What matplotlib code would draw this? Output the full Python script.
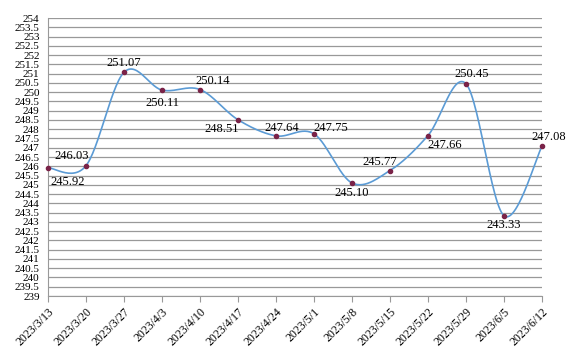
import numpy as np
import matplotlib
matplotlib.use("Agg")
import matplotlib.pyplot as plt

# weekly values
dates = ['2023/3/13', '2023/3/20', '2023/3/27', '2023/4/3', '2023/4/10', '2023/4/17',
         '2023/4/24', '2023/5/1', '2023/5/8', '2023/5/15', '2023/5/22', '2023/5/29',
         '2023/6/5', '2023/6/12']
values = [245.92, 246.03, 251.07, 250.11, 250.14, 248.51, 247.64, 247.75,
          245.10, 245.77, 247.66, 250.45, 243.33, 247.08]
labels = ['245.92', '246.03', '251.07', '250.11', '250.14', '248.51', '247.64',
          '247.75', '245.10', '245.77', '247.66', '250.45', '243.33', '247.08']
# label offsets (points) so text sits like the original
offsets = [(14, -10), (-10, 7), (0, 7), (0, -9), (9, 6), (-12, -7), (4, 6),
           (12, 4), (0, -7), (-7, 6), (12, -7), (4, 7), (0, -7), (5, 7)]

plt.rcParams['font.family'] = ['Liberation Serif', 'DejaVu Serif']

x = np.arange(len(values))
y = np.array(values)

# smooth line like excel (catmull-rom via bezier)
xs, ys = [], []
n = len(x)
for i in range(n - 1):
    p0 = (x[max(i - 1, 0)], y[max(i - 1, 0)])
    p1 = (x[i], y[i])
    p2 = (x[i + 1], y[i + 1])
    p3 = (x[min(i + 2, n - 1)], y[min(i + 2, n - 1)])
    c1 = (p1[0] + (p2[0] - p0[0]) / 6, p1[1] + (p2[1] - p0[1]) / 6)
    c2 = (p2[0] - (p3[0] - p1[0]) / 6, p2[1] - (p3[1] - p1[1]) / 6)
    t = np.linspace(0, 1, 30)
    bx = (1-t)**3*p1[0] + 3*(1-t)**2*t*c1[0] + 3*(1-t)*t**2*c2[0] + t**3*p2[0]
    by = (1-t)**3*p1[1] + 3*(1-t)**2*t*c1[1] + 3*(1-t)*t**2*c2[1] + t**3*p2[1]
    xs.extend(bx)
    ys.extend(by)

fig = plt.figure(figsize=(5.76, 3.58), dpi=100)
ax = fig.add_axes([48/576, 1 - 296/358, 494/576, 278/358])

ax.plot(xs, ys, color='#5b9bd5', lw=1.2, zorder=3, clip_on=False)
ax.scatter(x, y, s=9, color='#7a2348', zorder=4, clip_on=False)

for i in range(n):
    ax.annotate(labels[i], (x[i], y[i]), xytext=offsets[i], textcoords='offset points',
                ha='center', va='center', fontsize=9, zorder=5)

ax.set_xlim(0, n - 1)
ax.set_ylim(239, 254)
yt = np.arange(239, 254.01, 0.5)
ax.set_yticks(yt)
ax.set_yticklabels(['%g' % v for v in yt], fontsize=8, linespacing=0.9)
ax.tick_params(axis='y', length=0, pad=6)
ax.yaxis.grid(True, color='#999999', lw=0.9)
ax.set_axisbelow(True)

ax.set_xticks(x)
ax.set_xticklabels(dates, rotation=45, ha='right', rotation_mode='anchor', fontsize=8.5)
ax.tick_params(axis='x', length=4, color='#999999', direction='out', pad=3)

for s in ['top', 'right']:
    ax.spines[s].set_visible(False)
ax.spines['left'].set_color('#999999')
ax.spines['bottom'].set_color('#999999')

fig.savefig('out.png', dpi=100)
